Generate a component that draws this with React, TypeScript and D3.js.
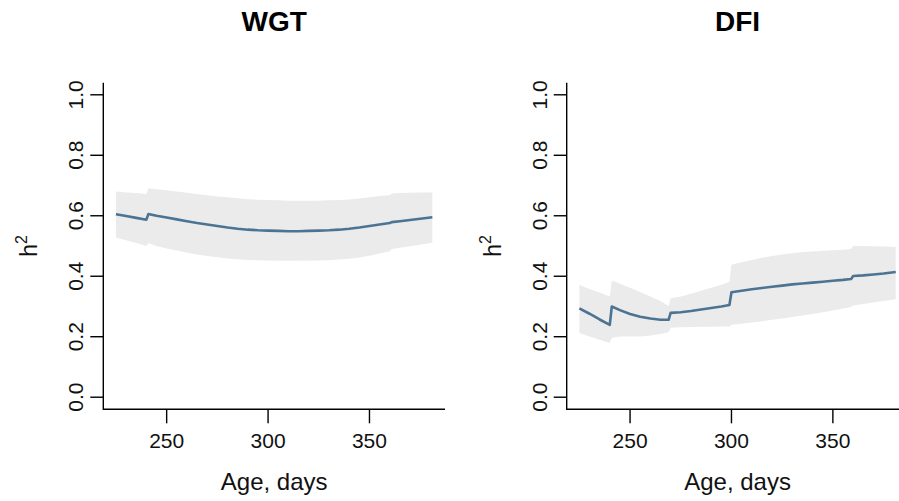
import React from "react";
import * as d3 from "d3";

// ---------- data ----------
const wgtAge = [225, 230, 235, 240, 241, 245, 250, 255, 260, 265, 270, 275, 280, 285, 290, 295, 300, 305, 310, 315, 320, 325, 330, 335, 340, 345, 350, 355, 360, 361, 365, 370, 375, 381];
const wgtEst = [0.605, 0.599, 0.593, 0.587, 0.606, 0.600, 0.594, 0.588, 0.582, 0.576, 0.571, 0.566, 0.561, 0.557, 0.554, 0.552, 0.551, 0.550, 0.549, 0.549, 0.550, 0.551, 0.552, 0.554, 0.557, 0.561, 0.566, 0.571, 0.576, 0.579, 0.582, 0.586, 0.590, 0.595];
const wgtLo = [0.528, 0.519, 0.510, 0.500, 0.509, 0.500, 0.492, 0.485, 0.478, 0.472, 0.467, 0.463, 0.459, 0.456, 0.454, 0.453, 0.452, 0.451, 0.451, 0.451, 0.452, 0.452, 0.453, 0.455, 0.458, 0.462, 0.468, 0.475, 0.483, 0.490, 0.494, 0.499, 0.504, 0.511];
const wgtHi = [0.680, 0.677, 0.675, 0.672, 0.691, 0.688, 0.684, 0.680, 0.676, 0.672, 0.668, 0.664, 0.661, 0.658, 0.655, 0.653, 0.652, 0.651, 0.650, 0.650, 0.650, 0.650, 0.651, 0.652, 0.654, 0.657, 0.661, 0.665, 0.668, 0.674, 0.675, 0.676, 0.677, 0.677];

const dfiAge = [225, 230, 235, 240, 241, 245, 250, 255, 260, 265, 269, 270, 275, 280, 285, 290, 295, 299, 300, 305, 310, 315, 320, 325, 330, 335, 340, 345, 350, 355, 359, 360, 365, 370, 375, 381];
const dfiEst = [0.294, 0.276, 0.257, 0.239, 0.300, 0.288, 0.275, 0.266, 0.260, 0.256, 0.256, 0.279, 0.281, 0.285, 0.290, 0.295, 0.300, 0.305, 0.347, 0.352, 0.357, 0.361, 0.365, 0.369, 0.373, 0.376, 0.379, 0.382, 0.385, 0.388, 0.391, 0.401, 0.403, 0.406, 0.409, 0.414];
const dfiLo = [0.212, 0.201, 0.190, 0.179, 0.197, 0.201, 0.201, 0.201, 0.204, 0.209, 0.215, 0.230, 0.231, 0.232, 0.233, 0.233, 0.234, 0.234, 0.240, 0.243, 0.247, 0.251, 0.256, 0.260, 0.265, 0.270, 0.275, 0.281, 0.287, 0.293, 0.298, 0.303, 0.308, 0.313, 0.318, 0.324];
const dfiHi = [0.371, 0.358, 0.346, 0.333, 0.386, 0.375, 0.362, 0.348, 0.333, 0.318, 0.302, 0.327, 0.333, 0.342, 0.352, 0.362, 0.372, 0.381, 0.438, 0.446, 0.454, 0.461, 0.467, 0.472, 0.476, 0.480, 0.482, 0.484, 0.486, 0.488, 0.490, 0.500, 0.500, 0.499, 0.498, 0.497];

const xTicks = [250, 300, 350];
const yTicks = [0, 0.2, 0.4, 0.6, 0.8, 1.0];
const xLimits = [225, 381];
const titles = ["WGT", "DFI"];
const xLabel = "Age, days";

const FONT = "'Liberation Sans', Arial, Helvetica, sans-serif";
const LINE = "#4B7394";
const BAND = "#EBEBEB";

type PanelProps = {
  left: number;
  title: string;
  age: number[];
  est: number[];
  lo: number[];
  hi: number[];
};

function Panel({ left, title, age, est, lo, hi }: PanelProps) {
  const plotW = 341.7;
  const top = 82.7;
  const bottom = 409.3;
  const ext = (xLimits[1] - xLimits[0]) * 0.04;
  const x = d3.scaleLinear().domain([xLimits[0] - ext, xLimits[1] + ext]).range([left, left + plotW]);
  const y = d3.scaleLinear().domain([-0.04, 1.04]).range([bottom, top]);
  const idx = d3.range(age.length);
  const area = d3
    .area<number>()
    .x((i) => x(age[i]))
    .y0((i) => y(lo[i]))
    .y1((i) => y(hi[i]));
  const line = d3
    .line<number>()
    .x((i) => x(age[i]))
    .y((i) => y(est[i]));
  const cx = left + plotW / 2;
  const cy = (top + bottom) / 2;
  return (
    <g fontFamily={FONT}>
      <path d={area(idx) ?? ""} fill={BAND} stroke="none" />
      <path d={line(idx) ?? ""} fill="none" stroke={LINE} strokeWidth={2.6} strokeLinejoin="round" />
      {/* box L */}
      <path d={`M${left},${top}V${bottom}H${left + plotW}`} fill="none" stroke="#000" strokeWidth={1.4} />
      {yTicks.map((t) => (
        <g key={"y" + t}>
          <line x1={left - 13} x2={left} y1={y(t)} y2={y(t)} stroke="#000" strokeWidth={1.4} />
          <text
            transform={`translate(${left - 20},${y(t)}) rotate(-90)`}
            textAnchor="middle"
            fontSize={21}
            fill="#111"
          >
            {t.toFixed(1)}
          </text>
        </g>
      ))}
      {xTicks.map((t) => (
        <g key={"x" + t}>
          <line x1={x(t)} x2={x(t)} y1={bottom} y2={bottom + 14} stroke="#000" strokeWidth={1.4} />
          <text x={x(t)} y={448} textAnchor="middle" fontSize={21} fill="#111">
            {t}
          </text>
        </g>
      ))}
      <text x={cx} y={490} textAnchor="middle" fontSize={24} fill="#111">
        {xLabel}
      </text>
      <text transform={`translate(${left - 66},${cy}) rotate(-90)`} textAnchor="middle" fontSize={23} fill="#111">
        h<tspan fontSize={16} dy={-10}>2</tspan>
      </text>
      <text x={cx} y={31} textAnchor="middle" fontSize={28} fontWeight="bold" fill="#000">
        {title}
      </text>
    </g>
  );
}

export default function App() {
  return (
    <svg
      width={899}
      height={501}
      style={{ position: "absolute", left: 0, top: 0, background: "#fff" }}
    >
      <rect width={899} height={501} fill="#fff" />
      <Panel left={103.3} title={titles[0]} age={wgtAge} est={wgtEst} lo={wgtLo} hi={wgtHi} />
      <Panel left={566.7} title={titles[1]} age={dfiAge} est={dfiEst} lo={dfiLo} hi={dfiHi} />
    </svg>
  );
}
